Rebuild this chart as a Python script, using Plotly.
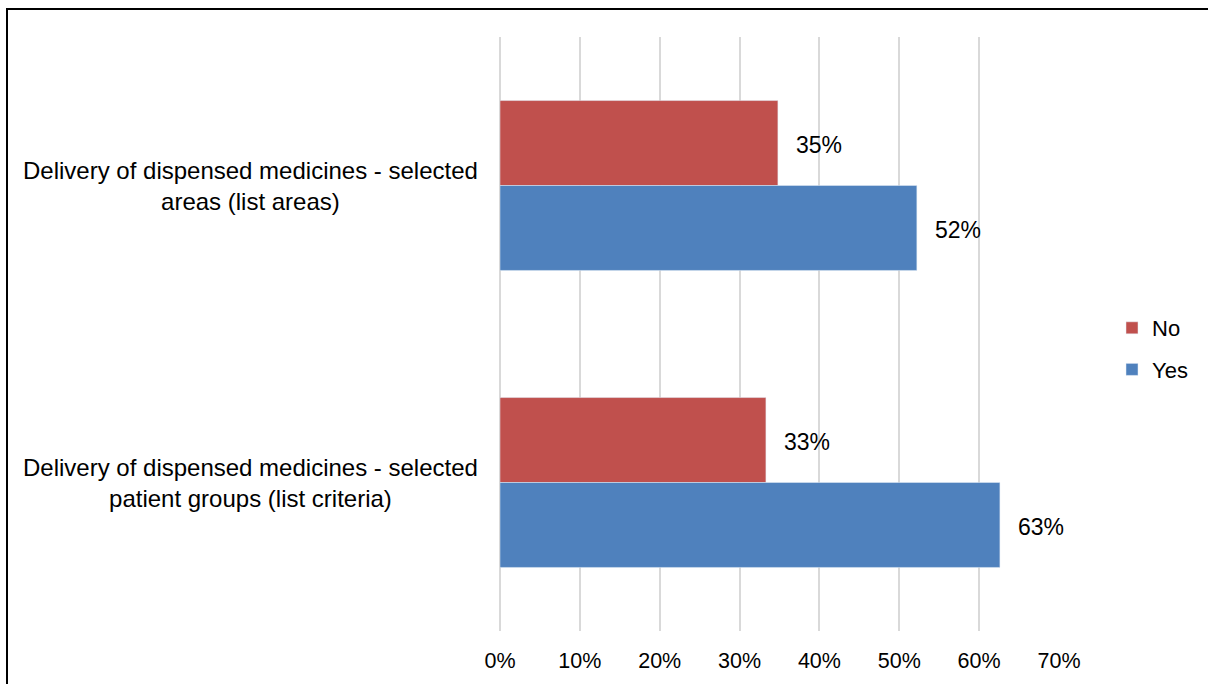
import plotly.graph_objects as go

categories = [
    "Delivery of dispensed medicines - selected<br>areas (list areas)",
    "Delivery of dispensed medicines - selected<br>patient groups (list criteria)",
]
no_values = [0.348, 0.333]
yes_values = [0.522, 0.626]
tick_vals = [0, 0.1, 0.2, 0.3, 0.4, 0.5, 0.6, 0.7]
tick_text = ["0%", "10%", "20%", "30%", "40%", "50%", "60%", "70%"]

RED = "#C0504D"
BLUE = "#4F81BD"
FONT = "Arial, Liberation Sans, sans-serif"

W, H = 1208, 684
L, R, T, B = 500, 149, 37, 53
plot_w = W - L - R
plot_h = H - T - B

fig = go.Figure()
fig.add_trace(go.Bar(y=categories, x=no_values, orientation="h", name="No",
                     marker=dict(color=RED), legendgroup="no"))
fig.add_trace(go.Bar(y=categories, x=yes_values, orientation="h", name="Yes",
                     marker=dict(color=BLUE), legendgroup="yes"))

bargap = 0.428
band_px = plot_h / len(categories)
half_bar_px = band_px * (1 - bargap) / 4

annotations = []
for cat, v in zip(categories, no_values):
    annotations.append(dict(x=v, y=cat, xref="x", yref="y", text=f"{round(v*100)}%",
                            showarrow=False, xanchor="left", yanchor="middle",
                            xshift=16, yshift=half_bar_px - 2,
                            font=dict(family=FONT, size=23, color="#000000")))
for cat, v in zip(categories, yes_values):
    annotations.append(dict(x=v, y=cat, xref="x", yref="y", text=f"{round(v*100)}%",
                            showarrow=False, xanchor="left", yanchor="middle",
                            xshift=16, yshift=-half_bar_px - 2,
                            font=dict(family=FONT, size=23, color="#000000")))
for cat in categories:
    annotations.append(dict(x=0, y=cat, xref="paper", yref="y", text=cat,
                            showarrow=False, xanchor="right", yanchor="middle",
                            align="center", xshift=-20,
                            font=dict(family=FONT, size=24, color="#000000")))

fig.update_layout(
    width=W, height=H,
    margin=dict(l=L, r=R, t=T, b=B, pad=0, autoexpand=False),
    paper_bgcolor="white", plot_bgcolor="white",
    barmode="group", bargap=bargap, bargroupgap=0,
    font=dict(family=FONT, color="#000000"),
    xaxis=dict(range=[0, 0.7], tickvals=tick_vals, ticktext=tick_text,
               automargin=False,
               showgrid=True, gridcolor="#D9D9D9", gridwidth=2,
               zeroline=True, zerolinecolor="#D9D9D9", zerolinewidth=2,
               showline=False, ticks="outside", ticklen=10,
               tickcolor="rgba(0,0,0,0)", tickfont=dict(size=21.5, family=FONT)),
    yaxis=dict(autorange="reversed", showticklabels=False, showgrid=False,
               automargin=False,
               zeroline=False, showline=False),
    legend=dict(x=1 + (1112 - (W - R)) / plot_w, xanchor="left",
                y=1 - (349 - T) / plot_h, yanchor="middle",
                traceorder="grouped", tracegroupgap=10,
                font=dict(size=22, family=FONT, color="#000000"),
                bgcolor="rgba(0,0,0,0)"),
    annotations=annotations,
    shapes=[dict(type="rect", xref="paper", yref="paper",
                 x0=(7 - L) / plot_w, x1=2.0,
                 y0=-1.0, y1=1 + (T - 9) / plot_h,
                 line=dict(color="#000000", width=2), fillcolor="rgba(0,0,0,0)",
                 layer="above")],
)

fig.write_html("out.html", config={"displayModeBar": False},
               post_script="document.body.style.margin='0';")
